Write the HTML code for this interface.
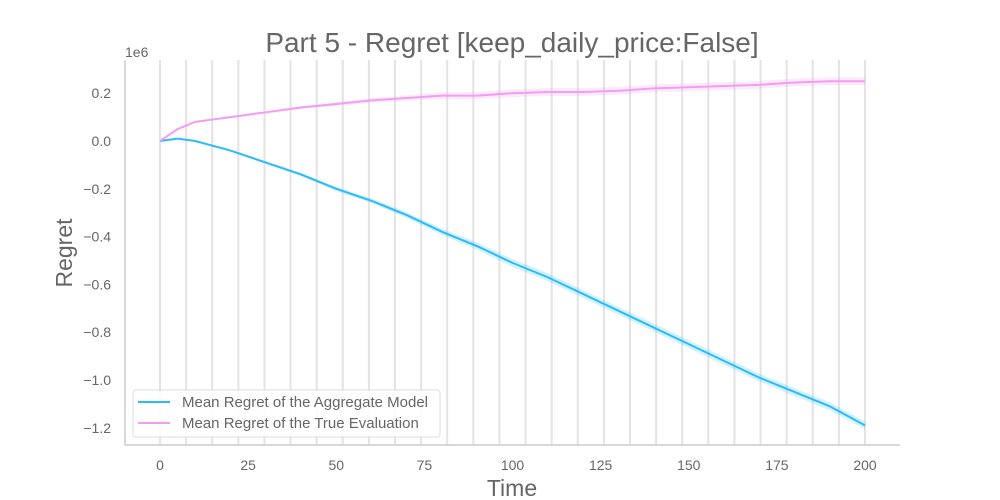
<!DOCTYPE html>
<html><head><meta charset="utf-8"><style>
html,body{margin:0;padding:0;background:#fff}
svg{display:block;font-family:"Liberation Sans",Arial,sans-serif}
</style></head><body>
<svg id="chart" width="1000" height="500">
<rect width="1000" height="500" fill="#fff"/>
<text x="512" y="52" text-anchor="middle" font-size="28" fill="#666">Part 5 - Regret [keep_daily_price:False]</text>
<g id="grid"></g>
<g id="series"></g>
<line x1="125" y1="60" x2="125" y2="445" stroke="#ccc" stroke-width="1.5"/>
<line x1="125" y1="445" x2="900" y2="445" stroke="#ccc" stroke-width="1.5"/>
<g id="xticks"></g>
<g id="yticks"></g>
<text x="125" y="57" font-size="14" fill="#666">1e6</text>
<text x="512" y="496" text-anchor="middle" font-size="23" fill="#666">Time</text>
<text transform="translate(72,253) rotate(-90)" text-anchor="middle" font-size="23" fill="#666">Regret</text>
<g>
<rect x="133" y="390" width="307" height="47" rx="3" fill="#fff" fill-opacity="0.85" stroke="#ddd"/>
<line x1="138" y1="402" x2="170" y2="402" stroke="#2ABBFB" stroke-width="2"/>
<text x="182" y="407" font-size="15" fill="#666">Mean Regret of the Aggregate Model</text>
<line x1="138" y1="423" x2="170" y2="423" stroke="#F49CF4" stroke-width="2"/>
<text x="182" y="428" font-size="15" fill="#666">Mean Regret of the True Evaluation</text>
</g>
</svg>
<script>
const timeValues=[0,5,10,20,30,40,50,60,70,80,90,100,110,120,130,140,150,160,170,180,190,200];
const aggregateRegret=[0,0.01,0.0,-0.04,-0.09,-0.14,-0.2,-0.25,-0.31,-0.38,-0.44,-0.51,-0.57,-0.64,-0.71,-0.78,-0.85,-0.92,-0.99,-1.05,-1.11,-1.19];
const trueRegret=[0,0.05,0.08,0.1,0.12,0.14,0.155,0.17,0.18,0.19,0.19,0.2,0.205,0.205,0.21,0.22,0.225,0.23,0.235,0.245,0.25,0.25];
const xTickLabels=[0,25,50,75,100,125,150,175,200];
const yTickLabels=[0.2,0.0,-0.2,-0.4,-0.6,-0.8,-1.0,-1.2];
const NS="http://www.w3.org/2000/svg";
const xs=v=>160+v*(705/200);
const ys=v=>141-v*239;
function mk(tag,attrs,parent){const e=document.createElementNS(NS,tag);for(const k in attrs)e.setAttribute(k,attrs[k]);parent.appendChild(e);return e;}
const grid=document.getElementById('grid');
for(let i=0;i<=27;i++){
  const x=xs(i*200/27);
  const l=mk('line',{x1:x,x2:x,y1:60,y2:445,stroke:'#e3e3e3','stroke-width':2},grid);
  
  
}
const xt=document.getElementById('xticks');
xTickLabels.forEach(v=>{
  const t=mk('text',{x:xs(v),y:470,'text-anchor':'middle','font-size':14,fill:'#666'},xt);
  t.textContent=v;
  
  
});
const yt=document.getElementById('yticks');
yTickLabels.forEach(v=>{
  const t=mk('text',{x:111,y:ys(v)+5,'text-anchor':'end','font-size':14,fill:'#666'},yt);
  t.textContent=(v<0?'\u2212':'')+Math.abs(v).toFixed(1);
  
  
});
const sg=document.getElementById('series');
function draw(vals,color,name){
  const band=vals.map((v,i)=>[xs(timeValues[i]),ys(v)]);
  const w=i=>Math.min(4,timeValues[i]*0.04);
  const up=band.map((p,i)=>p[0]+','+(p[1]-w(i))).join(' ');
  const dn=band.slice().reverse().map((p,j)=>{const i=band.length-1-j;return p[0]+','+(p[1]+w(i));}).join(' ');
  const b=mk('polygon',{points:up+' '+dn,fill:color,'fill-opacity':0.2},sg);
  
  
  const l=mk('polyline',{points:band.map(p=>p.join(',')).join(' '),fill:'none',stroke:color,'stroke-width':2},sg);
  
  
}
draw(aggregateRegret,'#2ABBFB','aggregate-model');
draw(trueRegret,'#F49CF4','true-evaluation');
</script>
</body></html>
